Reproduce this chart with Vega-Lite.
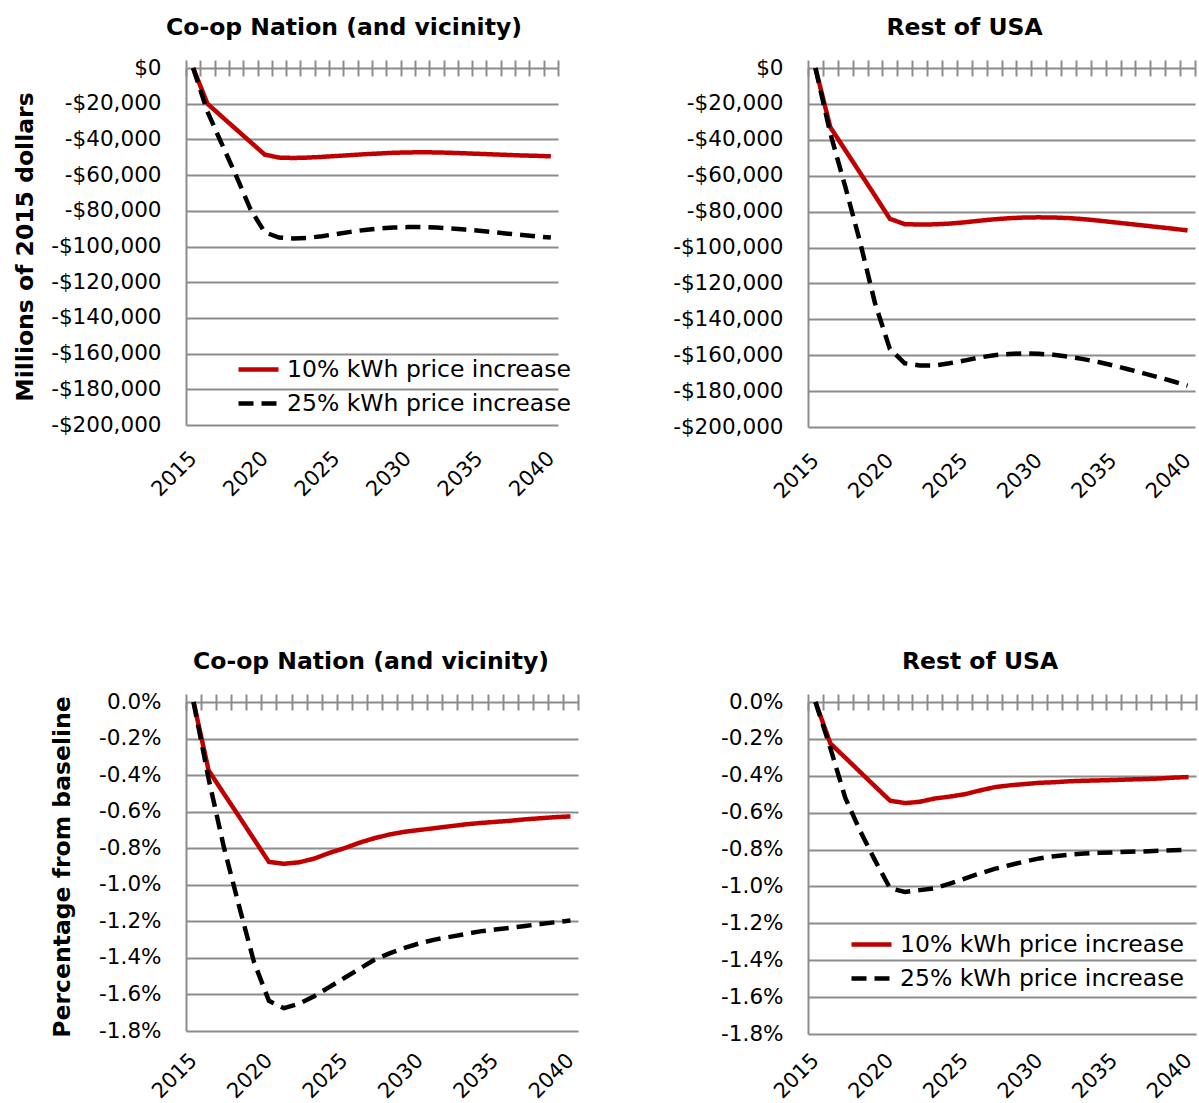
{
  "$schema": "https://vega.github.io/schema/vega-lite/v6.json",
  "background": "white",
  "padding": {"left": 13, "top": 15, "right": 0, "bottom": 0},
  "config": {
    "font": "DejaVu Sans",
    "view": {"stroke": null},
    "axis": {
      "labelFont": "DejaVu Sans", "labelFontSize": 21.5, "labelColor": "#000000",
      "titleFont": "DejaVu Sans", "titleFontSize": 23.5, "titleFontWeight": "bold", "titleColor": "#000000",
      "gridColor": "#8c8c8c", "gridWidth": 2, "gridOpacity": 1,
      "domainColor": "#8c8c8c", "domainWidth": 2,
      "tickColor": "#8c8c8c", "tickWidth": 2
    },
    "title": {"font": "DejaVu Sans", "fontSize": 23.5, "fontWeight": "bold", "color": "#000000", "anchor": "middle", "offset": 18},
    "legend": {"labelFont": "DejaVu Sans", "labelFontSize": 23.5, "labelColor": "#000000"}
  },
  "datasets": {
    "tl": [
      {"year": 2015, "value": 0, "series": "10% kWh price increase"},
      {"year": 2016, "value": -20000, "series": "10% kWh price increase"},
      {"year": 2017, "value": -27200, "series": "10% kWh price increase"},
      {"year": 2018, "value": -34300, "series": "10% kWh price increase"},
      {"year": 2019, "value": -41400, "series": "10% kWh price increase"},
      {"year": 2020, "value": -48500, "series": "10% kWh price increase"},
      {"year": 2021, "value": -50200, "series": "10% kWh price increase"},
      {"year": 2022, "value": -50400, "series": "10% kWh price increase"},
      {"year": 2023, "value": -50200, "series": "10% kWh price increase"},
      {"year": 2024, "value": -49800, "series": "10% kWh price increase"},
      {"year": 2025, "value": -49300, "series": "10% kWh price increase"},
      {"year": 2026, "value": -48800, "series": "10% kWh price increase"},
      {"year": 2027, "value": -48300, "series": "10% kWh price increase"},
      {"year": 2028, "value": -47900, "series": "10% kWh price increase"},
      {"year": 2029, "value": -47500, "series": "10% kWh price increase"},
      {"year": 2030, "value": -47300, "series": "10% kWh price increase"},
      {"year": 2031, "value": -47200, "series": "10% kWh price increase"},
      {"year": 2032, "value": -47300, "series": "10% kWh price increase"},
      {"year": 2033, "value": -47500, "series": "10% kWh price increase"},
      {"year": 2034, "value": -47800, "series": "10% kWh price increase"},
      {"year": 2035, "value": -48100, "series": "10% kWh price increase"},
      {"year": 2036, "value": -48400, "series": "10% kWh price increase"},
      {"year": 2037, "value": -48700, "series": "10% kWh price increase"},
      {"year": 2038, "value": -49000, "series": "10% kWh price increase"},
      {"year": 2039, "value": -49200, "series": "10% kWh price increase"},
      {"year": 2040, "value": -49500, "series": "10% kWh price increase"},
      {"year": 2015, "value": 0, "series": "25% kWh price increase"},
      {"year": 2016, "value": -24500, "series": "25% kWh price increase"},
      {"year": 2017, "value": -42500, "series": "25% kWh price increase"},
      {"year": 2018, "value": -60300, "series": "25% kWh price increase"},
      {"year": 2019, "value": -79000, "series": "25% kWh price increase"},
      {"year": 2020, "value": -92000, "series": "25% kWh price increase"},
      {"year": 2021, "value": -95000, "series": "25% kWh price increase"},
      {"year": 2022, "value": -95500, "series": "25% kWh price increase"},
      {"year": 2023, "value": -95200, "series": "25% kWh price increase"},
      {"year": 2024, "value": -94200, "series": "25% kWh price increase"},
      {"year": 2025, "value": -93000, "series": "25% kWh price increase"},
      {"year": 2026, "value": -91800, "series": "25% kWh price increase"},
      {"year": 2027, "value": -90700, "series": "25% kWh price increase"},
      {"year": 2028, "value": -89900, "series": "25% kWh price increase"},
      {"year": 2029, "value": -89400, "series": "25% kWh price increase"},
      {"year": 2030, "value": -89100, "series": "25% kWh price increase"},
      {"year": 2031, "value": -89100, "series": "25% kWh price increase"},
      {"year": 2032, "value": -89400, "series": "25% kWh price increase"},
      {"year": 2033, "value": -89900, "series": "25% kWh price increase"},
      {"year": 2034, "value": -90500, "series": "25% kWh price increase"},
      {"year": 2035, "value": -91200, "series": "25% kWh price increase"},
      {"year": 2036, "value": -92000, "series": "25% kWh price increase"},
      {"year": 2037, "value": -92800, "series": "25% kWh price increase"},
      {"year": 2038, "value": -93600, "series": "25% kWh price increase"},
      {"year": 2039, "value": -94300, "series": "25% kWh price increase"},
      {"year": 2040, "value": -95000, "series": "25% kWh price increase"}
    ],
    "tr": [
      {"year": 2015, "value": 0, "series": "10% kWh price increase"},
      {"year": 2016, "value": -33000, "series": "10% kWh price increase"},
      {"year": 2017, "value": -45700, "series": "10% kWh price increase"},
      {"year": 2018, "value": -58400, "series": "10% kWh price increase"},
      {"year": 2019, "value": -71100, "series": "10% kWh price increase"},
      {"year": 2020, "value": -84000, "series": "10% kWh price increase"},
      {"year": 2021, "value": -87000, "series": "10% kWh price increase"},
      {"year": 2022, "value": -87200, "series": "10% kWh price increase"},
      {"year": 2023, "value": -87100, "series": "10% kWh price increase"},
      {"year": 2024, "value": -86700, "series": "10% kWh price increase"},
      {"year": 2025, "value": -86000, "series": "10% kWh price increase"},
      {"year": 2026, "value": -85100, "series": "10% kWh price increase"},
      {"year": 2027, "value": -84300, "series": "10% kWh price increase"},
      {"year": 2028, "value": -83700, "series": "10% kWh price increase"},
      {"year": 2029, "value": -83300, "series": "10% kWh price increase"},
      {"year": 2030, "value": -83200, "series": "10% kWh price increase"},
      {"year": 2031, "value": -83300, "series": "10% kWh price increase"},
      {"year": 2032, "value": -83600, "series": "10% kWh price increase"},
      {"year": 2033, "value": -84200, "series": "10% kWh price increase"},
      {"year": 2034, "value": -85000, "series": "10% kWh price increase"},
      {"year": 2035, "value": -85900, "series": "10% kWh price increase"},
      {"year": 2036, "value": -86800, "series": "10% kWh price increase"},
      {"year": 2037, "value": -87700, "series": "10% kWh price increase"},
      {"year": 2038, "value": -88600, "series": "10% kWh price increase"},
      {"year": 2039, "value": -89500, "series": "10% kWh price increase"},
      {"year": 2040, "value": -90500, "series": "10% kWh price increase"},
      {"year": 2015, "value": 0, "series": "25% kWh price increase"},
      {"year": 2016, "value": -36500, "series": "25% kWh price increase"},
      {"year": 2017, "value": -66000, "series": "25% kWh price increase"},
      {"year": 2018, "value": -97000, "series": "25% kWh price increase"},
      {"year": 2019, "value": -131000, "series": "25% kWh price increase"},
      {"year": 2020, "value": -156500, "series": "25% kWh price increase"},
      {"year": 2021, "value": -164500, "series": "25% kWh price increase"},
      {"year": 2022, "value": -165700, "series": "25% kWh price increase"},
      {"year": 2023, "value": -165700, "series": "25% kWh price increase"},
      {"year": 2024, "value": -164500, "series": "25% kWh price increase"},
      {"year": 2025, "value": -163000, "series": "25% kWh price increase"},
      {"year": 2026, "value": -161300, "series": "25% kWh price increase"},
      {"year": 2027, "value": -160000, "series": "25% kWh price increase"},
      {"year": 2028, "value": -159300, "series": "25% kWh price increase"},
      {"year": 2029, "value": -159000, "series": "25% kWh price increase"},
      {"year": 2030, "value": -159200, "series": "25% kWh price increase"},
      {"year": 2031, "value": -159800, "series": "25% kWh price increase"},
      {"year": 2032, "value": -160800, "series": "25% kWh price increase"},
      {"year": 2033, "value": -162200, "series": "25% kWh price increase"},
      {"year": 2034, "value": -163800, "series": "25% kWh price increase"},
      {"year": 2035, "value": -165700, "series": "25% kWh price increase"},
      {"year": 2036, "value": -167800, "series": "25% kWh price increase"},
      {"year": 2037, "value": -170000, "series": "25% kWh price increase"},
      {"year": 2038, "value": -172200, "series": "25% kWh price increase"},
      {"year": 2039, "value": -174500, "series": "25% kWh price increase"},
      {"year": 2040, "value": -177000, "series": "25% kWh price increase"}
    ],
    "bl": [
      {"year": 2015, "value": 0, "series": "10% kWh price increase"},
      {"year": 2016, "value": -0.374, "series": "10% kWh price increase"},
      {"year": 2017, "value": -0.5, "series": "10% kWh price increase"},
      {"year": 2018, "value": -0.624, "series": "10% kWh price increase"},
      {"year": 2019, "value": -0.75, "series": "10% kWh price increase"},
      {"year": 2020, "value": -0.875, "series": "10% kWh price increase"},
      {"year": 2021, "value": -0.885, "series": "10% kWh price increase"},
      {"year": 2022, "value": -0.877, "series": "10% kWh price increase"},
      {"year": 2023, "value": -0.857, "series": "10% kWh price increase"},
      {"year": 2024, "value": -0.826, "series": "10% kWh price increase"},
      {"year": 2025, "value": -0.8, "series": "10% kWh price increase"},
      {"year": 2026, "value": -0.77, "series": "10% kWh price increase"},
      {"year": 2027, "value": -0.745, "series": "10% kWh price increase"},
      {"year": 2028, "value": -0.725, "series": "10% kWh price increase"},
      {"year": 2029, "value": -0.71, "series": "10% kWh price increase"},
      {"year": 2030, "value": -0.7, "series": "10% kWh price increase"},
      {"year": 2031, "value": -0.69, "series": "10% kWh price increase"},
      {"year": 2032, "value": -0.68, "series": "10% kWh price increase"},
      {"year": 2033, "value": -0.67, "series": "10% kWh price increase"},
      {"year": 2034, "value": -0.662, "series": "10% kWh price increase"},
      {"year": 2035, "value": -0.656, "series": "10% kWh price increase"},
      {"year": 2036, "value": -0.65, "series": "10% kWh price increase"},
      {"year": 2037, "value": -0.642, "series": "10% kWh price increase"},
      {"year": 2038, "value": -0.636, "series": "10% kWh price increase"},
      {"year": 2039, "value": -0.63, "series": "10% kWh price increase"},
      {"year": 2040, "value": -0.626, "series": "10% kWh price increase"},
      {"year": 2015, "value": 0, "series": "25% kWh price increase"},
      {"year": 2016, "value": -0.42, "series": "25% kWh price increase"},
      {"year": 2017, "value": -0.79, "series": "25% kWh price increase"},
      {"year": 2018, "value": -1.11, "series": "25% kWh price increase"},
      {"year": 2019, "value": -1.42, "series": "25% kWh price increase"},
      {"year": 2020, "value": -1.635, "series": "25% kWh price increase"},
      {"year": 2021, "value": -1.675, "series": "25% kWh price increase"},
      {"year": 2022, "value": -1.65, "series": "25% kWh price increase"},
      {"year": 2023, "value": -1.61, "series": "25% kWh price increase"},
      {"year": 2024, "value": -1.56, "series": "25% kWh price increase"},
      {"year": 2025, "value": -1.51, "series": "25% kWh price increase"},
      {"year": 2026, "value": -1.46, "series": "25% kWh price increase"},
      {"year": 2027, "value": -1.41, "series": "25% kWh price increase"},
      {"year": 2028, "value": -1.375, "series": "25% kWh price increase"},
      {"year": 2029, "value": -1.345, "series": "25% kWh price increase"},
      {"year": 2030, "value": -1.32, "series": "25% kWh price increase"},
      {"year": 2031, "value": -1.3, "series": "25% kWh price increase"},
      {"year": 2032, "value": -1.285, "series": "25% kWh price increase"},
      {"year": 2033, "value": -1.27, "series": "25% kWh price increase"},
      {"year": 2034, "value": -1.255, "series": "25% kWh price increase"},
      {"year": 2035, "value": -1.245, "series": "25% kWh price increase"},
      {"year": 2036, "value": -1.235, "series": "25% kWh price increase"},
      {"year": 2037, "value": -1.225, "series": "25% kWh price increase"},
      {"year": 2038, "value": -1.215, "series": "25% kWh price increase"},
      {"year": 2039, "value": -1.205, "series": "25% kWh price increase"},
      {"year": 2040, "value": -1.195, "series": "25% kWh price increase"}
    ],
    "br": [
      {"year": 2015, "value": 0, "series": "10% kWh price increase"},
      {"year": 2016, "value": -0.225, "series": "10% kWh price increase"},
      {"year": 2017, "value": -0.302, "series": "10% kWh price increase"},
      {"year": 2018, "value": -0.38, "series": "10% kWh price increase"},
      {"year": 2019, "value": -0.458, "series": "10% kWh price increase"},
      {"year": 2020, "value": -0.535, "series": "10% kWh price increase"},
      {"year": 2021, "value": -0.548, "series": "10% kWh price increase"},
      {"year": 2022, "value": -0.541, "series": "10% kWh price increase"},
      {"year": 2023, "value": -0.523, "series": "10% kWh price increase"},
      {"year": 2024, "value": -0.513, "series": "10% kWh price increase"},
      {"year": 2025, "value": -0.5, "series": "10% kWh price increase"},
      {"year": 2026, "value": -0.48, "series": "10% kWh price increase"},
      {"year": 2027, "value": -0.462, "series": "10% kWh price increase"},
      {"year": 2028, "value": -0.452, "series": "10% kWh price increase"},
      {"year": 2029, "value": -0.445, "series": "10% kWh price increase"},
      {"year": 2030, "value": -0.438, "series": "10% kWh price increase"},
      {"year": 2031, "value": -0.435, "series": "10% kWh price increase"},
      {"year": 2032, "value": -0.43, "series": "10% kWh price increase"},
      {"year": 2033, "value": -0.427, "series": "10% kWh price increase"},
      {"year": 2034, "value": -0.425, "series": "10% kWh price increase"},
      {"year": 2035, "value": -0.423, "series": "10% kWh price increase"},
      {"year": 2036, "value": -0.42, "series": "10% kWh price increase"},
      {"year": 2037, "value": -0.418, "series": "10% kWh price increase"},
      {"year": 2038, "value": -0.415, "series": "10% kWh price increase"},
      {"year": 2039, "value": -0.41, "series": "10% kWh price increase"},
      {"year": 2040, "value": -0.407, "series": "10% kWh price increase"},
      {"year": 2015, "value": 0, "series": "25% kWh price increase"},
      {"year": 2016, "value": -0.25, "series": "25% kWh price increase"},
      {"year": 2017, "value": -0.52, "series": "25% kWh price increase"},
      {"year": 2018, "value": -0.7, "series": "25% kWh price increase"},
      {"year": 2019, "value": -0.86, "series": "25% kWh price increase"},
      {"year": 2020, "value": -1.01, "series": "25% kWh price increase"},
      {"year": 2021, "value": -1.03, "series": "25% kWh price increase"},
      {"year": 2022, "value": -1.02, "series": "25% kWh price increase"},
      {"year": 2023, "value": -1.01, "series": "25% kWh price increase"},
      {"year": 2024, "value": -0.985, "series": "25% kWh price increase"},
      {"year": 2025, "value": -0.958, "series": "25% kWh price increase"},
      {"year": 2026, "value": -0.93, "series": "25% kWh price increase"},
      {"year": 2027, "value": -0.905, "series": "25% kWh price increase"},
      {"year": 2028, "value": -0.885, "series": "25% kWh price increase"},
      {"year": 2029, "value": -0.865, "series": "25% kWh price increase"},
      {"year": 2030, "value": -0.848, "series": "25% kWh price increase"},
      {"year": 2031, "value": -0.836, "series": "25% kWh price increase"},
      {"year": 2032, "value": -0.828, "series": "25% kWh price increase"},
      {"year": 2033, "value": -0.822, "series": "25% kWh price increase"},
      {"year": 2034, "value": -0.818, "series": "25% kWh price increase"},
      {"year": 2035, "value": -0.815, "series": "25% kWh price increase"},
      {"year": 2036, "value": -0.812, "series": "25% kWh price increase"},
      {"year": 2037, "value": -0.81, "series": "25% kWh price increase"},
      {"year": 2038, "value": -0.807, "series": "25% kWh price increase"},
      {"year": 2039, "value": -0.804, "series": "25% kWh price increase"},
      {"year": 2040, "value": -0.8, "series": "25% kWh price increase"}
    ]
  },
  "columns": 2,
  "bounds": "flush",
  "spacing": {"row": 275, "column": 230},
  "resolve": {"scale": {"color": "independent", "strokeDash": "independent"}},
  "concat": [
    {
      "width": 372, "height": 357,
      "title": {"text": "Co-op Nation (and vicinity)", "dx": -28},
      "data": {"name": "tl"},
      "layer": [
        {
          "transform": [{"filter": "datum.series == '10% kWh price increase'"}],
          "mark": {"type": "line", "strokeWidth": 4.5},
          "encoding": {
            "x": {"field": "year", "type": "quantitative", "scale": {"domain": [2014.5, 2040.5], "nice": false, "zero": false},
                  "axis": {"orient": "top", "values": [2014.5,2015.5,2016.5,2017.5,2018.5,2019.5,2020.5,2021.5,2022.5,2023.5,2024.5,2025.5,2026.5,2027.5,2028.5,2029.5,2030.5,2031.5,2032.5,2033.5,2034.5,2035.5,2036.5,2037.5,2038.5,2039.5,2040.5], "labels": false, "domain": false, "grid": false, "ticks": true, "tickSize": 16, "offset": -8, "title": null}},
            "y": {"field": "value", "type": "quantitative", "scale": {"domain": [-200000, 0], "nice": false, "zero": false},
                  "axis": {"values": [0,-20000,-40000,-60000,-80000,-100000,-120000,-140000,-160000,-180000,-200000], "labelExpr": "replace(format(datum.value, '$,.0f'), '−', '-')", "title": "Millions of 2015 dollars", "grid": true, "ticks": false, "domain": true, "labelPadding": 25, "titlePadding": 13}},
            "color": {"field": "series", "type": "nominal", "scale": {"domain": ["10% kWh price increase", "25% kWh price increase"], "range": ["#c00000", "#000000"]},
                      "legend": {"orient": "none", "legendX": 50, "legendY": 279, "title": null, "symbolType": "stroke", "symbolSize": 1600, "symbolStrokeWidth": 4.5, "labelOffset": 6, "rowPadding": 0, "padding": 0, "labelLimit": 400}},
            "strokeDash": {"field": "series", "type": "nominal", "scale": {"domain": ["10% kWh price increase", "25% kWh price increase"], "range": [[1, 0], [15, 8]]},
                      "legend": {"orient": "none", "legendX": 50, "legendY": 279, "title": null, "symbolType": "stroke", "symbolSize": 1600, "symbolStrokeWidth": 4.5, "labelOffset": 6, "rowPadding": 0, "padding": 0, "labelLimit": 400}}
          }
        },
        {
          "transform": [{"filter": "datum.series == '25% kWh price increase'"}],
          "mark": {"type": "line", "strokeWidth": 4.5},
          "encoding": {
            "x": {"field": "year", "type": "quantitative", "scale": {"domain": [2014.5, 2040.5], "nice": false, "zero": false},
                  "axis": {"orient": "bottom", "values": [2015, 2020, 2025, 2030, 2035, 2040], "format": "d", "labelAngle": -45, "labelAlign": "right", "labelBaseline": "middle", "labelFontSize": 21, "labelPadding": 30, "domain": false, "grid": false, "ticks": false, "title": null, "labelOverlap": false, "labelFlush": false}},
            "y": {"field": "value", "type": "quantitative", "scale": {"domain": [-200000, 0], "nice": false, "zero": false},
                  "axis": {"values": [0,-20000,-40000,-60000,-80000,-100000,-120000,-140000,-160000,-180000,-200000], "labelExpr": "replace(format(datum.value, '$,.0f'), '−', '-')", "title": "Millions of 2015 dollars", "grid": true, "ticks": false, "domain": true, "labelPadding": 25, "titlePadding": 13}},
            "color": {"field": "series", "type": "nominal", "scale": {"domain": ["10% kWh price increase", "25% kWh price increase"], "range": ["#c00000", "#000000"]},
                      "legend": {"orient": "none", "legendX": 50, "legendY": 279, "title": null, "symbolType": "stroke", "symbolSize": 1600, "symbolStrokeWidth": 4.5, "labelOffset": 6, "rowPadding": 0, "padding": 0, "labelLimit": 400}},
            "strokeDash": {"field": "series", "type": "nominal", "scale": {"domain": ["10% kWh price increase", "25% kWh price increase"], "range": [[1, 0], [15, 8]]},
                      "legend": {"orient": "none", "legendX": 50, "legendY": 279, "title": null, "symbolType": "stroke", "symbolSize": 1600, "symbolStrokeWidth": 4.5, "labelOffset": 6, "rowPadding": 0, "padding": 0, "labelLimit": 400}}
          }
        }
      ],
      "resolve": {"axis": {"x": "independent"}}
    },
    {
      "width": 387, "height": 359,
      "title": {"text": "Rest of USA", "dx": -37},
      "data": {"name": "tr"},
      "layer": [
        {
          "transform": [{"filter": "datum.series == '10% kWh price increase'"}],
          "mark": {"type": "line", "strokeWidth": 4.5},
          "encoding": {
            "x": {"field": "year", "type": "quantitative", "scale": {"domain": [2014.5, 2040.5], "nice": false, "zero": false},
                  "axis": {"orient": "top", "values": [2014.5,2015.5,2016.5,2017.5,2018.5,2019.5,2020.5,2021.5,2022.5,2023.5,2024.5,2025.5,2026.5,2027.5,2028.5,2029.5,2030.5,2031.5,2032.5,2033.5,2034.5,2035.5,2036.5,2037.5,2038.5,2039.5,2040.5], "labels": false, "domain": false, "grid": false, "ticks": true, "tickSize": 16, "offset": -8, "title": null}},
            "y": {"field": "value", "type": "quantitative", "scale": {"domain": [-200000, 0], "nice": false, "zero": false},
                  "axis": {"values": [0,-20000,-40000,-60000,-80000,-100000,-120000,-140000,-160000,-180000,-200000], "labelExpr": "replace(format(datum.value, '$,.0f'), '−', '-')", "title": null, "grid": true, "ticks": false, "domain": true, "labelPadding": 25}},
            "color": {"field": "series", "type": "nominal", "scale": {"domain": ["10% kWh price increase", "25% kWh price increase"], "range": ["#c00000", "#000000"]}, "legend": null},
            "strokeDash": {"field": "series", "type": "nominal", "scale": {"domain": ["10% kWh price increase", "25% kWh price increase"], "range": [[1, 0], [15, 8]]}, "legend": null}
          }
        },
        {
          "transform": [{"filter": "datum.series == '25% kWh price increase'"}],
          "mark": {"type": "line", "strokeWidth": 4.5},
          "encoding": {
            "x": {"field": "year", "type": "quantitative", "scale": {"domain": [2014.5, 2040.5], "nice": false, "zero": false},
                  "axis": {"orient": "bottom", "values": [2015, 2020, 2025, 2030, 2035, 2040], "format": "d", "labelAngle": -45, "labelAlign": "right", "labelBaseline": "middle", "labelFontSize": 21, "labelPadding": 30, "domain": false, "grid": false, "ticks": false, "title": null, "labelOverlap": false, "labelFlush": false}},
            "y": {"field": "value", "type": "quantitative", "scale": {"domain": [-200000, 0], "nice": false, "zero": false},
                  "axis": {"values": [0,-20000,-40000,-60000,-80000,-100000,-120000,-140000,-160000,-180000,-200000], "labelExpr": "replace(format(datum.value, '$,.0f'), '−', '-')", "title": null, "grid": true, "ticks": false, "domain": true, "labelPadding": 25}},
            "color": {"field": "series", "type": "nominal", "scale": {"domain": ["10% kWh price increase", "25% kWh price increase"], "range": ["#c00000", "#000000"]}, "legend": null},
            "strokeDash": {"field": "series", "type": "nominal", "scale": {"domain": ["10% kWh price increase", "25% kWh price increase"], "range": [[1, 0], [15, 8]]}, "legend": null}
          }
        }
      ],
      "resolve": {"axis": {"x": "independent"}}
    },
    {
      "width": 392, "height": 329,
      "title": {"text": "Co-op Nation (and vicinity)", "dx": -11},
      "data": {"name": "bl"},
      "layer": [
        {
          "transform": [{"filter": "datum.series == '10% kWh price increase'"}],
          "mark": {"type": "line", "strokeWidth": 4.5},
          "encoding": {
            "x": {"field": "year", "type": "quantitative", "scale": {"domain": [2014.5, 2040.5], "nice": false, "zero": false},
                  "axis": {"orient": "top", "values": [2014.5,2015.5,2016.5,2017.5,2018.5,2019.5,2020.5,2021.5,2022.5,2023.5,2024.5,2025.5,2026.5,2027.5,2028.5,2029.5,2030.5,2031.5,2032.5,2033.5,2034.5,2035.5,2036.5,2037.5,2038.5,2039.5,2040.5], "labels": false, "domain": false, "grid": false, "ticks": true, "tickSize": 16, "offset": -8, "title": null}},
            "y": {"field": "value", "type": "quantitative", "scale": {"domain": [-1.8, 0], "nice": false, "zero": false},
                  "axis": {"values": [0,-0.2,-0.4,-0.6,-0.8,-1,-1.2,-1.4,-1.6,-1.8], "labelExpr": "replace(format(datum.value, '.1f'), '−', '-') + '%'", "title": "Percentage from baseline", "grid": true, "ticks": false, "domain": true, "labelPadding": 25, "titlePadding": 24}},
            "color": {"field": "series", "type": "nominal", "scale": {"domain": ["10% kWh price increase", "25% kWh price increase"], "range": ["#c00000", "#000000"]}, "legend": null},
            "strokeDash": {"field": "series", "type": "nominal", "scale": {"domain": ["10% kWh price increase", "25% kWh price increase"], "range": [[1, 0], [15, 8]]}, "legend": null}
          }
        },
        {
          "transform": [{"filter": "datum.series == '25% kWh price increase'"}],
          "mark": {"type": "line", "strokeWidth": 4.5},
          "encoding": {
            "x": {"field": "year", "type": "quantitative", "scale": {"domain": [2014.5, 2040.5], "nice": false, "zero": false},
                  "axis": {"orient": "bottom", "values": [2015, 2020, 2025, 2030, 2035, 2040], "format": "d", "labelAngle": -45, "labelAlign": "right", "labelBaseline": "middle", "labelFontSize": 21, "labelPadding": 26, "domain": false, "grid": false, "ticks": false, "title": null, "labelOverlap": false, "labelFlush": false}},
            "y": {"field": "value", "type": "quantitative", "scale": {"domain": [-1.8, 0], "nice": false, "zero": false},
                  "axis": {"values": [0,-0.2,-0.4,-0.6,-0.8,-1,-1.2,-1.4,-1.6,-1.8], "labelExpr": "replace(format(datum.value, '.1f'), '−', '-') + '%'", "title": "Percentage from baseline", "grid": true, "ticks": false, "domain": true, "labelPadding": 25, "titlePadding": 24}},
            "color": {"field": "series", "type": "nominal", "scale": {"domain": ["10% kWh price increase", "25% kWh price increase"], "range": ["#c00000", "#000000"]}, "legend": null},
            "strokeDash": {"field": "series", "type": "nominal", "scale": {"domain": ["10% kWh price increase", "25% kWh price increase"], "range": [[1, 0], [15, 8]]}, "legend": null}
          }
        }
      ],
      "resolve": {"axis": {"x": "independent"}}
    },
    {
      "width": 388, "height": 332,
      "title": {"text": "Rest of USA", "dx": -22},
      "data": {"name": "br"},
      "layer": [
        {
          "transform": [{"filter": "datum.series == '10% kWh price increase'"}],
          "mark": {"type": "line", "strokeWidth": 4.5},
          "encoding": {
            "x": {"field": "year", "type": "quantitative", "scale": {"domain": [2014.5, 2040.5], "nice": false, "zero": false},
                  "axis": {"orient": "top", "values": [2014.5,2015.5,2016.5,2017.5,2018.5,2019.5,2020.5,2021.5,2022.5,2023.5,2024.5,2025.5,2026.5,2027.5,2028.5,2029.5,2030.5,2031.5,2032.5,2033.5,2034.5,2035.5,2036.5,2037.5,2038.5,2039.5,2040.5], "labels": false, "domain": false, "grid": false, "ticks": true, "tickSize": 16, "offset": -8, "title": null}},
            "y": {"field": "value", "type": "quantitative", "scale": {"domain": [-1.8, 0], "nice": false, "zero": false},
                  "axis": {"values": [0,-0.2,-0.4,-0.6,-0.8,-1,-1.2,-1.4,-1.6,-1.8], "labelExpr": "replace(format(datum.value, '.1f'), '−', '-') + '%'", "title": null, "grid": true, "ticks": false, "domain": true, "labelPadding": 25}},
            "color": {"field": "series", "type": "nominal", "scale": {"domain": ["10% kWh price increase", "25% kWh price increase"], "range": ["#c00000", "#000000"]},
                      "legend": {"orient": "none", "legendX": 41, "legendY": 220, "title": null, "symbolType": "stroke", "symbolSize": 1600, "symbolStrokeWidth": 4.5, "labelOffset": 6, "rowPadding": 0, "padding": 0, "labelLimit": 400}},
            "strokeDash": {"field": "series", "type": "nominal", "scale": {"domain": ["10% kWh price increase", "25% kWh price increase"], "range": [[1, 0], [15, 8]]},
                      "legend": {"orient": "none", "legendX": 41, "legendY": 220, "title": null, "symbolType": "stroke", "symbolSize": 1600, "symbolStrokeWidth": 4.5, "labelOffset": 6, "rowPadding": 0, "padding": 0, "labelLimit": 400}}
          }
        },
        {
          "transform": [{"filter": "datum.series == '25% kWh price increase'"}],
          "mark": {"type": "line", "strokeWidth": 4.5},
          "encoding": {
            "x": {"field": "year", "type": "quantitative", "scale": {"domain": [2014.5, 2040.5], "nice": false, "zero": false},
                  "axis": {"orient": "bottom", "values": [2015, 2020, 2025, 2030, 2035, 2040], "format": "d", "labelAngle": -45, "labelAlign": "right", "labelBaseline": "middle", "labelFontSize": 21, "labelPadding": 23, "domain": false, "grid": false, "ticks": false, "title": null, "labelOverlap": false, "labelFlush": false}},
            "y": {"field": "value", "type": "quantitative", "scale": {"domain": [-1.8, 0], "nice": false, "zero": false},
                  "axis": {"values": [0,-0.2,-0.4,-0.6,-0.8,-1,-1.2,-1.4,-1.6,-1.8], "labelExpr": "replace(format(datum.value, '.1f'), '−', '-') + '%'", "title": null, "grid": true, "ticks": false, "domain": true, "labelPadding": 25}},
            "color": {"field": "series", "type": "nominal", "scale": {"domain": ["10% kWh price increase", "25% kWh price increase"], "range": ["#c00000", "#000000"]},
                      "legend": {"orient": "none", "legendX": 41, "legendY": 220, "title": null, "symbolType": "stroke", "symbolSize": 1600, "symbolStrokeWidth": 4.5, "labelOffset": 6, "rowPadding": 0, "padding": 0, "labelLimit": 400}},
            "strokeDash": {"field": "series", "type": "nominal", "scale": {"domain": ["10% kWh price increase", "25% kWh price increase"], "range": [[1, 0], [15, 8]]},
                      "legend": {"orient": "none", "legendX": 41, "legendY": 220, "title": null, "symbolType": "stroke", "symbolSize": 1600, "symbolStrokeWidth": 4.5, "labelOffset": 6, "rowPadding": 0, "padding": 0, "labelLimit": 400}}
          }
        }
      ],
      "resolve": {"axis": {"x": "independent"}}
    }
  ]
}
